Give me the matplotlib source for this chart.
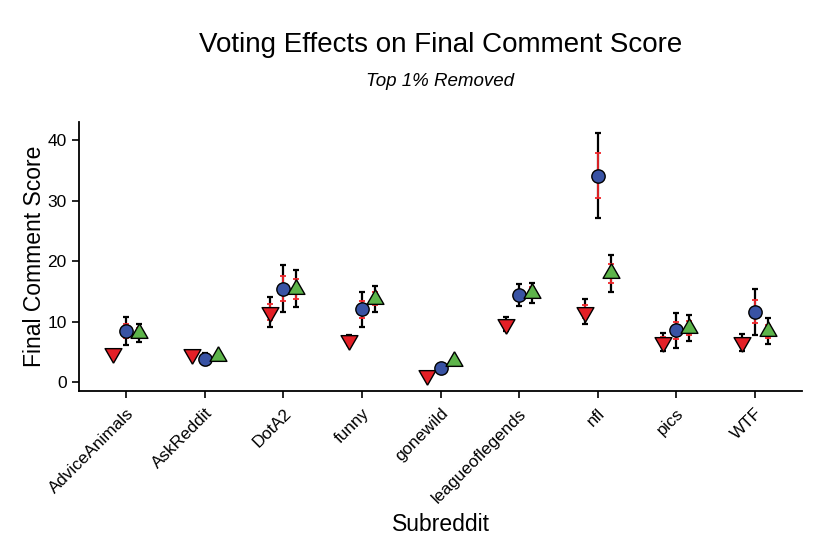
import numpy as np
import matplotlib.pyplot as plt

plt.rcParams['font.family'] = ['Liberation Sans', 'DejaVu Sans']

subreddits = ["AdviceAnimals", "AskReddit", "DotA2", "funny", "gonewild",
              "leagueoflegends", "nfl", "pics", "WTF"]

# downvoted
down_mean = [4.8, 4.6, 11.6, 7.0, 1.2, 9.6, 11.65, 6.7, 6.6]
down_ci = [0.6, 0.4, 2.5, 0.9, 0.4, 1.2, 2.05, 1.5, 1.4]
down_se = [0.35, 0.25, 1.3, 0.5, 0.2, 0.6, 1.05, 0.8, 0.75]

# control
ctrl_mean = [8.5, 3.9, 15.5, 12.05, 2.4, 14.4, 34.2, 8.6, 11.65]
ctrl_ci = [2.3, 1.0, 3.9, 2.85, 0.6, 1.8, 7.1, 2.9, 3.85]
ctrl_se = [1.2, 0.5, 2.0, 1.35, 0.3, 0.9, 3.7, 1.4, 1.9]

# upvoted
up_mean = [8.2, 4.3, 15.45, 13.8, 3.5, 14.8, 18.05, 9.0, 8.45]
up_ci = [1.5, 0.5, 3.05, 2.2, 0.4, 1.7, 3.05, 2.2, 2.15]
up_se = [0.8, 0.3, 1.6, 1.1, 0.2, 0.9, 1.55, 1.1, 1.1]

x = np.arange(1, len(subreddits) + 1)
dodge = 0.167

# equilateral triangles centred on their centroid (like R's pch 24/25)
tri_up = [(0, 1), (-0.866, -0.5), (0.866, -0.5), (0, 1)]
tri_down = [(0, -1), (-0.866, 0.5), (0.866, 0.5), (0, -1)]

fig = plt.figure(figsize=(8.3, 5.54), dpi=100)
ax = fig.add_axes([0.0952, 0.2948, 0.8711, 0.4855])

groups = [
    (x - dodge, down_mean, down_ci, down_se, tri_down, '#E41F26', 14),
    (x, ctrl_mean, ctrl_ci, ctrl_se, 'o', '#3953A4', 9.6),
    (x + dodge, up_mean, up_ci, up_se, tri_up, '#5DB44A', 14),
]

for xs, m, ci, se, mk, col, ms in groups:
    ax.errorbar(xs, m, yerr=ci, fmt='none', ecolor='black', elinewidth=1.6,
                capsize=2.5, capthick=1.6, zorder=2)
    ax.errorbar(xs, m, yerr=se, fmt='none', ecolor='#F0262B', elinewidth=1.3,
                capsize=2.0, capthick=1.3, zorder=3)
    ax.plot(xs, m, linestyle='none', marker=mk, markersize=ms,
            markerfacecolor=col, markeredgecolor='black',
            markeredgewidth=1.0, zorder=4)

ax.set_xlim(0.4, 9.6)
ax.set_ylim(-1.39, 43.1)
ax.set_xticks(x)
ax.set_xticklabels(subreddits, rotation=45, ha='right', rotation_mode='anchor')
ax.set_yticks([0, 10, 20, 30, 40])
ax.tick_params(axis='both', length=4.8, width=1.2,
               color='black', labelcolor='black')
ax.tick_params(axis='y', labelsize=12.5, pad=4)
ax.tick_params(axis='x', labelsize=12.3, pad=6)

for s in ['top', 'right']:
    ax.spines[s].set_visible(False)
for s in ['left', 'bottom']:
    ax.spines[s].set_linewidth(1.3)

ax.set_xlabel("Subreddit", fontsize=16.5, labelpad=5)
ax.set_ylabel("Final Comment Score", fontsize=16.5, labelpad=1)

fig.text(0.5307, 0.918, "Voting Effects on Final Comment Score",
         ha='center', va='center', fontsize=20)
fig.text(0.5307, 0.852, "Top 1% Removed", ha='center', va='center',
         fontsize=13.5, style='italic')

plt.savefig("out.png", dpi=100)
